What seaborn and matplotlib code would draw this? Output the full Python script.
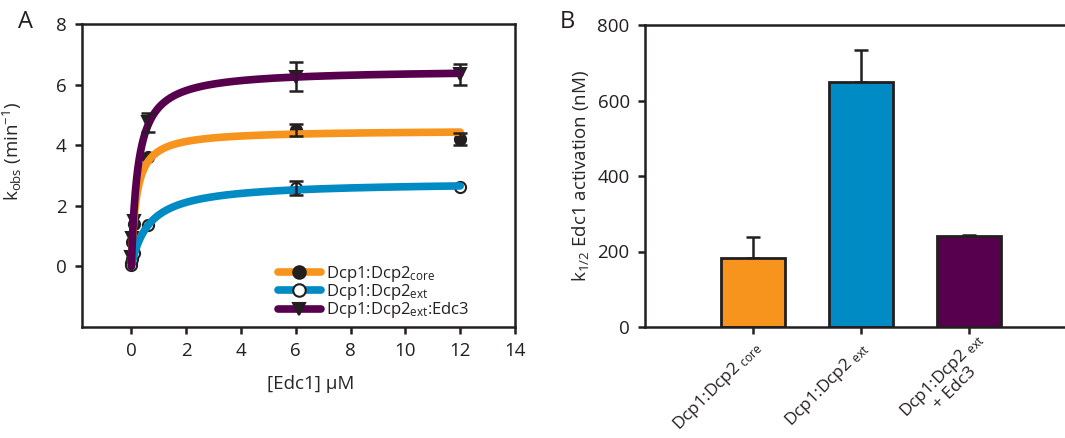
import numpy as np
import pandas as pd
import matplotlib
matplotlib.use("Agg")
import matplotlib.pyplot as plt
import matplotlib.transforms as mtransforms
from matplotlib.lines import Line2D
import seaborn as sns

# ---- data ----
series = ["Dcp1:Dcp2$_{\\mathregular{core}}$",
          "Dcp1:Dcp2$_{\\mathregular{ext}}$",
          "Dcp1:Dcp2$_{\\mathregular{ext}}$:Edc3"]
colors = ["#F7941D", "#008BC4", "#56004E"]
markers = ["o", "o", "v"]
marker_faces = ["#231F20", "white", "#231F20"]

edc1 = [0, 0.04, 0.08, 0.6, 6, 12]          # [Edc1] uM
k_core = [0.1, 0.8, 1.4, 3.6, 4.5, 4.2]
k_ext = [0.05, 0.25, 0.45, 1.36, 2.6, 2.63]
k_edc3 = [0.3, 0.95, 1.5, 4.75, 6.26, 6.34]
err_core = [0, 0, 0, 0, 0.2, 0.2]
err_ext = [0, 0, 0, 0, 0.23, 0]
err_edc3 = [0, 0, 0, 0.3, 0.47, 0.34]

# hyperbolic fit parameters (kmax in min^-1, K1/2 in uM from panel B)
kmax = [4.5, 2.8, 6.5]
k_half = [0.183, 0.65, 0.24]

bar_labels = ["Dcp1:Dcp2$_{\\mathregular{\\ core}}$",
              "Dcp1:Dcp2$_{\\mathregular{\\ ext}}$",
              "Dcp1:Dcp2$_{\\mathregular{\\ ext}}$\n+ Edc3"]
bar_values = [183, 648, 240]
bar_errors = [56, 85, 5]

sns.set_style("ticks")
plt.rcParams["font.family"] = ["Open Sans", "DejaVu Sans"]
plt.rcParams["mathtext.fontset"] = "custom"
plt.rcParams["mathtext.rm"] = "Open Sans"
plt.rcParams["mathtext.it"] = "Open Sans"
plt.rcParams["axes.edgecolor"] = "#231F20"
plt.rcParams["xtick.color"] = "#231F20"
plt.rcParams["ytick.color"] = "#231F20"
plt.rcParams["text.color"] = "#231F20"

fig = plt.figure(figsize=(10.65, 4.38), dpi=100)
W, H = 1065, 438

# ---- panel A ----
axA = fig.add_axes([82 / W, 1 - 327 / H, (515 - 82) / W, (327 - 24) / H])
pts = pd.DataFrame({"x": edc1 * 3,
                    "k": k_core + k_ext + k_edc3,
                    "err": err_core + err_ext + err_edc3,
                    "s": np.repeat(series, len(edc1))})

xs = np.linspace(0, 12, 500)
fit_rows = []
for name, vmax, kh in zip(series, kmax, k_half):
    fit_rows.append(pd.DataFrame({"x": xs, "k": vmax * xs / (kh + xs), "s": name}))
fit = pd.concat(fit_rows)

for name, m, fc in zip(series, markers, marker_faces):
    d = pts[pts.s == name]
    axA.plot(d.x, d.k, ls="none", marker=m, ms=8, mfc=fc, mec="#231F20",
             mew=1.5, zorder=2)

sns.lineplot(data=fit, x="x", y="k", hue="s", palette=colors, lw=5.5,
             legend=False, ax=axA, zorder=3)

for name in series:
    d = pts[(pts.s == name) & (pts.err > 0)]
    axA.errorbar(d.x, d.k, yerr=d.err, fmt="none", ecolor="#231F20",
                 elinewidth=1.8, capsize=5, capthick=1.8, zorder=4)

axA.set_xlim(-1.8, 14)
axA.set_ylim(-2, 8)
axA.set_xticks(range(0, 15, 2))
axA.set_yticks(range(0, 9, 2))
axA.tick_params(direction="out", length=5, width=1.8, labelsize=13.5, pad=6)
for sp in axA.spines.values():
    sp.set_linewidth(1.8)
axA.set_xlabel("[Edc1] µM", fontsize=13.5)
axA.xaxis.set_label_coords(0.527, -0.16)
axA.set_ylabel("k$_{\\mathregular{obs}}$ (min$^{\\mathregular{-1}}$)", fontsize=13.5)
axA.yaxis.set_label_coords(-0.135, 0.58)

handles = [Line2D([], [], color=c, lw=5.5, marker=m, ms=9, mfc=fc,
                  mec="#231F20", mew=1.5)
           for c, m, fc in zip(colors, markers, marker_faces)]
axA.legend(handles, series, loc="lower right", bbox_to_anchor=(0.91, 0.0),
           frameon=False, fontsize=12, handlelength=2.6, handletextpad=0.3,
           labelspacing=-0.1, borderaxespad=0)

# ---- panel B ----
axB = fig.add_axes([645 / W, 1 - 327 / H, (1077 - 645) / W, (327 - 25) / H])
bars = pd.DataFrame({"label": bar_labels, "value": bar_values})
sns.barplot(data=bars, x="label", y="value", hue="label", palette=colors,
            saturation=1, legend=False, width=0.6, edgecolor="#231F20",
            linewidth=2, ax=axB, zorder=2)
axB.errorbar(range(len(bar_values)), bar_values,
             yerr=[[0] * len(bar_errors), bar_errors], fmt="none",
             ecolor="#231F20", elinewidth=1.8, capsize=5, capthick=1.8, zorder=1)
axB.set_xlim(-1, 3)
axB.set_ylim(0, 800)
axB.set_yticks(range(0, 801, 200))
axB.tick_params(direction="out", length=5, width=1.8, labelsize=13.5, pad=6)
axB.tick_params(axis="x", pad=3)
for sp in axB.spines.values():
    sp.set_linewidth(1.8)
axB.set_xlabel("")
axB.set_ylabel("k$_{\\mathregular{1/2}}$ Edc1 activation (nM)", fontsize=13.5)
axB.yaxis.set_label_coords(-0.125, 0.5)
shifts = [(-1, 0), (-1, 0), (4, 6)]   # points
for lab, (dx, dy) in zip(axB.get_xticklabels(), shifts):
    offset = mtransforms.ScaledTranslation(dx / 72, dy / 72, fig.dpi_scale_trans)
    lab.set_rotation(45)
    lab.set_ha("right")
    lab.set_va("top")
    lab.set_rotation_mode("anchor")
    lab.set_multialignment("center")
    lab.set_linespacing(1.0)
    lab.set_fontsize(12.5)
    lab.set_transform(lab.get_transform() + offset)

fig.text(18 / W, 1 - 22 / H, "A", fontsize=17, va="center", ha="left")
fig.text(560 / W, 1 - 22 / H, "B", fontsize=17, va="center", ha="left")

fig.savefig("out.png", dpi=100)
